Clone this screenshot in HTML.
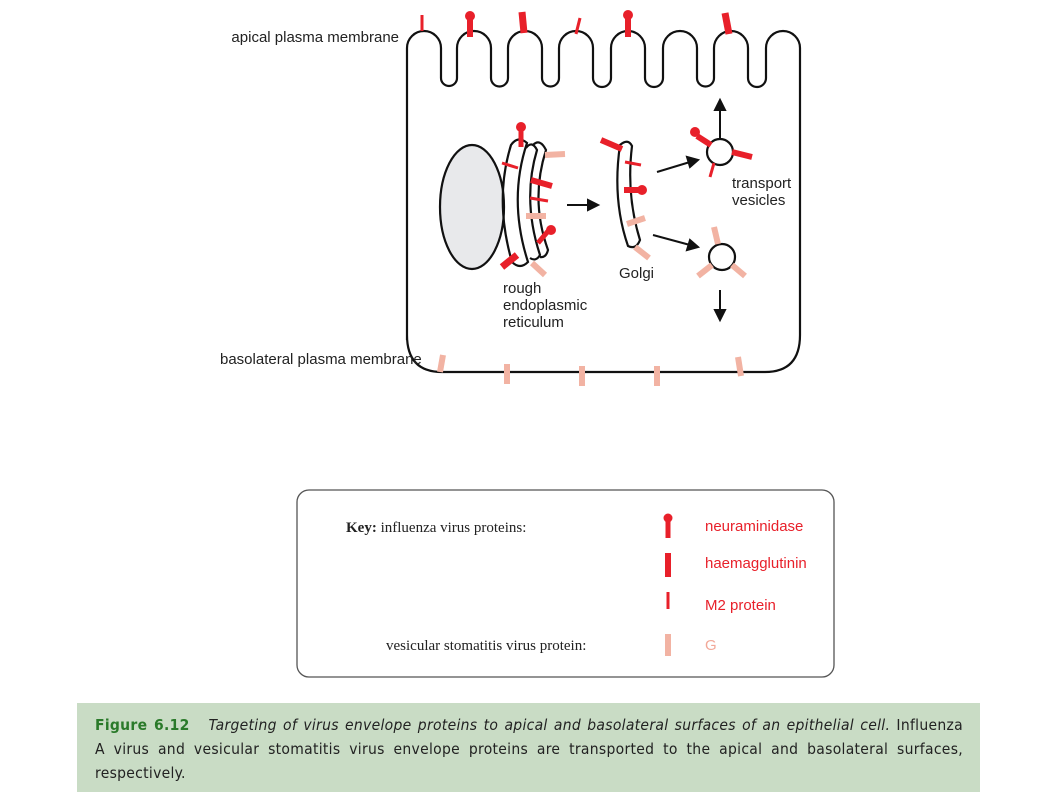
<!DOCTYPE html>
<html><head><meta charset="utf-8"><style>
html,body{margin:0;padding:0;background:#fff;width:1058px;height:794px;overflow:hidden}
svg{display:block}
.lab{font-family:"Liberation Sans",sans-serif;font-size:15px;fill:#222}
.ser{font-family:"Liberation Serif",serif;font-size:15px;fill:#222}
.red{font-family:"Liberation Sans",sans-serif;font-size:15px;fill:#e8202a}
#cap{position:absolute;left:77px;top:703px;width:903px;height:89px;background:#c9dcc5;box-sizing:border-box;padding:10px 17px 0 18px;font-family:"DejaVu Sans Condensed","DejaVu Sans",sans-serif;font-size:15.5px;line-height:24px;color:#222;letter-spacing:0.3px}
#cap div.j{text-align:justify;text-align-last:justify;white-space:nowrap}
#cap b{color:#2a7a2a}
</style></head><body>
<svg width="1058" height="794">
<g fill="none" stroke="#111" stroke-width="2.2">
<path id="membrane" d=""/>
<ellipse cx="472" cy="207" rx="32" ry="62" fill="#e8e9eb"/>
<path d="M511 145 Q518 135 527 143 Q508 200 528 262 Q520 270 512 262 Q494 200 511 145 Z"/>
<path d="M526 148 Q532 140 537 150 Q522 200 540 255 Q536 262 530 258" />
<path d="M533 145 Q540 138 546 150 Q530 200 548 250 Q546 258 540 257" />
<path d="M620 145 Q628 138 632 146 Q626 195 640 240 Q636 250 628 246 Q612 200 620 145 Z"/>
<circle cx="720" cy="152" r="13"/>
<circle cx="722" cy="257" r="13"/>
</g>
<g stroke="#111" stroke-width="2" fill="#111">
<line x1="567" y1="205" x2="590" y2="205"/><polygon points="598,205 588,200 588,210"/>
<line x1="657" y1="172" x2="690" y2="162"/><polygon points="698,160 687,157 690,167"/>
<line x1="653" y1="235" x2="690" y2="245"/><polygon points="698,247 690,240 687,250"/>
<line x1="720" y1="138" x2="720" y2="108"/><polygon points="720,100 715,110 725,110"/>
<line x1="720" y1="290" x2="720" y2="312"/><polygon points="720,320 715,310 725,310"/>
</g>
<g stroke-linecap="butt">
<line x1="422" y1="15" x2="422" y2="31" stroke="#e8202a" stroke-width="3"/>
<line x1="470" y1="18" x2="470" y2="37" stroke="#e8202a" stroke-width="6"/><circle cx="470" cy="16" r="5" fill="#e8202a"/>
<line x1="522" y1="12" x2="524" y2="33" stroke="#e8202a" stroke-width="7"/>
<line x1="580" y1="18" x2="576" y2="34" stroke="#e8202a" stroke-width="3"/>
<line x1="628" y1="17" x2="628" y2="37" stroke="#e8202a" stroke-width="6"/><circle cx="628" cy="15" r="5" fill="#e8202a"/>
<line x1="725" y1="13" x2="729" y2="34" stroke="#e8202a" stroke-width="7"/>
<line x1="521" y1="130" x2="521" y2="147" stroke="#e8202a" stroke-width="5"/><circle cx="521" cy="127" r="5" fill="#e8202a"/>
<line x1="502" y1="163" x2="518" y2="168" stroke="#e8202a" stroke-width="3"/>
<line x1="545" y1="155" x2="565" y2="154" stroke="#f2b3a3" stroke-width="6"/>
<line x1="531" y1="180" x2="552" y2="186" stroke="#e8202a" stroke-width="6"/>
<line x1="530" y1="198" x2="548" y2="201" stroke="#e8202a" stroke-width="3"/>
<line x1="526" y1="216" x2="546" y2="216" stroke="#f2b3a3" stroke-width="6"/>
<line x1="538" y1="243" x2="549" y2="230" stroke="#e8202a" stroke-width="5"/><circle cx="551" cy="230" r="5" fill="#e8202a"/>
<line x1="502" y1="267" x2="517" y2="255" stroke="#e8202a" stroke-width="7"/>
<line x1="532" y1="263" x2="545" y2="275" stroke="#f2b3a3" stroke-width="6"/>
<line x1="601" y1="140" x2="622" y2="149" stroke="#e8202a" stroke-width="6"/>
<line x1="625" y1="162" x2="641" y2="165" stroke="#e8202a" stroke-width="3"/>
<line x1="624" y1="190" x2="640" y2="190" stroke="#e8202a" stroke-width="6"/><circle cx="642" cy="190" r="5" fill="#e8202a"/>
<line x1="627" y1="224" x2="645" y2="218" stroke="#f2b3a3" stroke-width="6"/>
<line x1="635" y1="247" x2="649" y2="258" stroke="#f2b3a3" stroke-width="6"/>
<line x1="711" y1="145" x2="697" y2="136" stroke="#e8202a" stroke-width="6"/><circle cx="695" cy="132" r="5" fill="#e8202a"/>
<line x1="732" y1="152" x2="752" y2="157" stroke="#e8202a" stroke-width="6"/>
<line x1="714" y1="163" x2="710" y2="177" stroke="#e8202a" stroke-width="3"/>
<line x1="718" y1="244" x2="714" y2="227" stroke="#f2b3a3" stroke-width="6"/>
<line x1="712" y1="265" x2="698" y2="276" stroke="#f2b3a3" stroke-width="6"/>
<line x1="732" y1="265" x2="745" y2="276" stroke="#f2b3a3" stroke-width="6"/>
<line x1="443" y1="355" x2="440" y2="372" stroke="#f2b3a3" stroke-width="6"/>
<line x1="507" y1="364" x2="507" y2="384" stroke="#f2b3a3" stroke-width="6"/>
<line x1="582" y1="366" x2="582" y2="386" stroke="#f2b3a3" stroke-width="6"/>
<line x1="657" y1="366" x2="657" y2="386" stroke="#f2b3a3" stroke-width="6"/>
<line x1="738" y1="357" x2="741" y2="376" stroke="#f2b3a3" stroke-width="6"/>
</g>
<text class="lab" x="399" y="42" text-anchor="end">apical plasma membrane</text>
<text class="lab" x="220" y="364">basolateral plasma membrane</text>
<text class="lab" x="732" y="188">transport</text>
<text class="lab" x="732" y="205">vesicles</text>
<text class="lab" x="619" y="278">Golgi</text>
<text class="lab" x="503" y="293">rough</text>
<text class="lab" x="503" y="310">endoplasmic</text>
<text class="lab" x="503" y="327">reticulum</text>
<g>
<rect x="297" y="490" width="537" height="187" rx="12" fill="#fff" stroke="#555" stroke-width="1.3"/>
<text class="ser" x="346" y="532"><tspan font-weight="bold">Key:</tspan>  influenza virus proteins:</text>
<text class="ser" x="386" y="650">vesicular stomatitis virus protein:</text>
<line x1="668" y1="520" x2="668" y2="538" stroke="#e8202a" stroke-width="5"/><circle cx="668" cy="518" r="4.5" fill="#e8202a"/>
<line x1="668" y1="553" x2="668" y2="577" stroke="#e8202a" stroke-width="6"/>
<line x1="668" y1="592" x2="668" y2="609" stroke="#e8202a" stroke-width="3"/>
<line x1="668" y1="634" x2="668" y2="656" stroke="#f2b3a3" stroke-width="6"/>
<text class="red" x="705" y="531">neuraminidase</text>
<text class="red" x="705" y="568">haemagglutinin</text>
<text class="red" x="705" y="610">M2 protein</text>
<text class="red" x="705" y="650" style="fill:#f2a898">G</text>
</g>
</svg>
<div id="cap">
<div class="j"><b>Figure 6.12</b>&nbsp;&nbsp; <i>Targeting of virus envelope proteins to apical and basolateral surfaces of an epithelial cell.</i> Influenza</div>
<div class="j">A virus and vesicular stomatitis virus envelope proteins are transported to the apical and basolateral surfaces,</div>
<div>respectively.</div>
</div>
<script>
var centers=[424,474,525,576,628,680,731,783];
var br=17, ytop=48, ybot=78;
var d="M407 340 L407 "+ytop;
for(var i=0;i<centers.length;i++){
  var c=centers[i];
  d+=" L"+(c-br)+" "+ytop+" A"+br+" "+br+" 0 0 1 "+(c+br)+" "+ytop;
  if(i<centers.length-1){
    var n=centers[i+1]-br;
    var tr=(n-c-br)/2;
    d+=" L"+(c+br)+" "+ybot+" A"+tr+" "+tr+" 0 0 0 "+n+" "+ybot+" L"+n+" "+ytop;
  }
}
var R=centers[centers.length-1]+br;
d+=" L"+R+" 335 Q"+R+" 372 "+(R-35)+" 372 L442 372 Q407 372 407 335 Z";
document.getElementById('membrane').setAttribute('d',d);
</script>
</body></html>
